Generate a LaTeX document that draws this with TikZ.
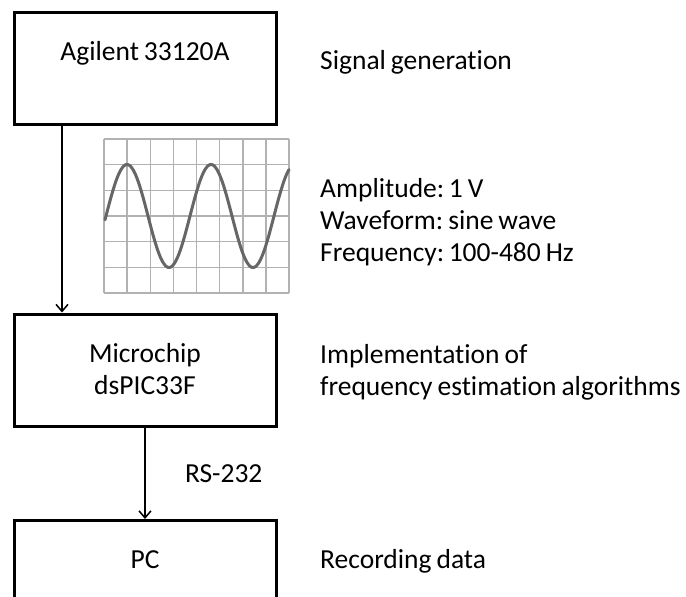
\documentclass[tikz,border=0pt]{standalone}
\usepackage{fontspec}
\setmainfont{Carlito}[RawFeature=-liga]
\usetikzlibrary{arrows.meta,positioning}
\frenchspacing
\DeclareRobustCommand{\diagfont}{\fontsize{27.5}{32}\selectfont\spaceskip=5pt\relax}

\begin{document}
\begin{tikzpicture}[x=1pt, y=-1pt, >={Straight Barb[length=7pt,width=12pt]},
  every node/.style={font=\diagfont},
  block/.style={draw, line width=3pt, inner sep=0pt, minimum width=262pt,
    text width=262pt, align=flush center, text height=48pt, text depth=64pt},
  desc/.style={anchor=base west, inner sep=0pt, text width=380pt, align=flush left},
  link/.style={->, line width=1.5pt},
  gridline/.style={draw=black!30, line width=1.5pt},
  wave/.style={draw=black!60, line width=3pt, line cap=round}]
  \useasboundingbox (0,0) rectangle (686,597);
  % blocks
  \node[block] (gen) at (145,68) {Agilent 33120A};
  \node[block] (mcu) at (145,370) {Microchip\\dsPIC33F};
  \node[block] (pc) at (145,576.5) {PC};
  % scope screen with the sine wave
  \foreach \i in {0,...,8}
    \draw[gridline] (104+\i*23.125,139) -- ++(0,154);
  \foreach \j in {0,...,6}
    \draw[gridline] (104,139+\j*25.667) -- ++(185,0);
  \draw[wave] plot[domain=105:289, samples=150, smooth]
    ({\x},{216-51.5*sin(4.2857*(\x-106))});
  % descriptions
  \node[desc] (sig) at (320,69.3) {Signal generation};
  \node[desc] (par) at (320,197.7) {Amplitude:\,1 V\\Waveform: sine wave\\Frequency:\,100-480 Hz};
  \node[desc] (impl) at (320,363) {Implementation of\\frequency estimation algorithms};
  \node[desc] (rec) at (320,568) {Recording data};
  % connections
  \draw[link] ([xshift=-83pt]gen.south) -- ([xshift=-83pt]mcu.north);
  \draw[link] (mcu) -- node[right=36pt] {RS-232} (pc);
\end{tikzpicture}
\end{document}
